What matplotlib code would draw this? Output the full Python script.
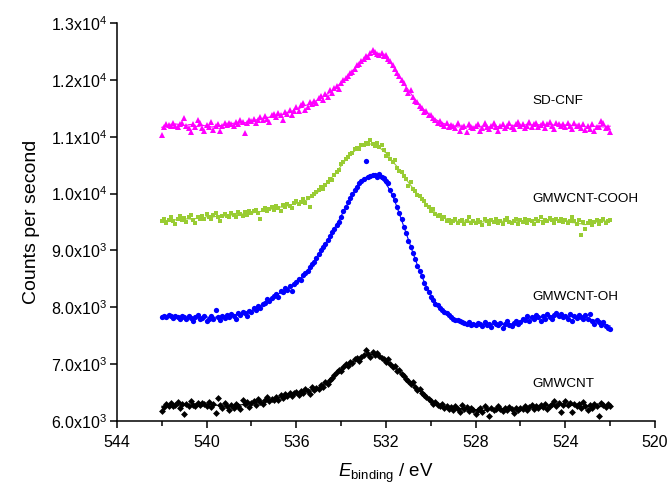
import numpy as np
import matplotlib
matplotlib.use("Agg")
import matplotlib.pyplot as plt
from matplotlib.ticker import MultipleLocator, FuncFormatter

plt.rcParams['font.family'] = ['Liberation Sans', 'DejaVu Sans']
plt.rcParams['mathtext.fontset'] = 'custom'
plt.rcParams['mathtext.rm'] = 'Liberation Sans'
plt.rcParams['mathtext.it'] = 'Liberation Sans:italic'

# binding energy grid, 542 -> 522 eV in 0.1 eV steps
energy = np.round(np.arange(542.0, 521.95, -0.1), 1)

sd_cnf = [
    11030, 11180, 11230, 11210, 11190, 11250, 11200, 11170, 11220, 11240,
    11330, 11200, 11150, 11090, 11220, 11180, 11300, 11250, 11160, 11100,
    11210, 11180, 11260, 11120, 11200, 11230, 11100, 11190, 11240, 11210,
    11250, 11220, 11190, 11270, 11230, 11300, 11260, 11070, 11240, 11290,
    11280, 11320, 11250, 11300, 11350, 11290, 11370, 11320, 11260, 11380,
    11400, 11350, 11420, 11380, 11300, 11440, 11410, 11480, 11390, 11460,
    11520, 11450, 11560, 11600, 11480, 11530, 11620, 11580, 11640, 11600,
    11680, 11720, 11650, 11750, 11700, 11820, 11780, 11860, 11900, 11850,
    11950, 12000, 12030, 12080, 12120, 12150, 12200, 12260, 12290, 12330,
    12370, 12420, 12400, 12470, 12530, 12500, 12460, 12450, 12480, 12430,
    12450, 12380, 12330, 12270, 12200, 12130, 12080, 12000, 11950, 11850,
    11780, 11820, 11700, 11640, 11620, 11550, 11500, 11430, 11460, 11380,
    11380, 11330, 11300, 11250, 11280, 11230, 11200, 11240, 11180, 11210,
    11200, 11150, 11250, 11100, 11180, 11200, 11090, 11230, 11170, 11150,
    11190, 11220, 11100, 11160, 11250, 11180, 11130, 11200, 11240, 11170,
    11110, 11190, 11230, 11160, 11200, 11250, 11180, 11140, 11220, 11260,
    11190, 11230, 11150, 11200, 11260, 11170, 11220, 11250, 11180, 11210,
    11240, 11160, 11230, 11260, 11200, 11140, 11250, 11220, 11190, 11230,
    11170, 11250, 11200, 11130, 11240, 11190, 11210, 11160, 11230, 11120,
    11200, 11140, 11220, 11100, 11180, 11170, 11280, 11250, 11150, 11180,
    11080,
]

cooh = [
    9510, 9560, 9490, 9540, 9580, 9520, 9470, 9550, 9600, 9530,
    9570, 9500, 9590, 9620, 9540, 9480, 9580, 9550, 9610, 9560,
    9640, 9590, 9550, 9620, 9650, 9580, 9520, 9600, 9640, 9610,
    9590, 9660, 9620, 9580, 9680, 9640, 9600, 9670, 9630, 9690,
    9650, 9700, 9720, 9660, 9560, 9710, 9740, 9690, 9730, 9760,
    9720, 9780, 9750, 9700, 9800, 9760, 9820, 9790, 9740, 9830,
    9870, 9810, 9860, 9900, 9840, 9920, 9760, 9950, 9990, 10020,
    10060, 10110, 10080, 10160, 10210, 10260, 10240, 10330, 10380, 10420,
    10520, 10560, 10610, 10640, 10700, 10720, 10780, 10810, 10790, 10850,
    10860, 10900, 10880, 10940, 10870, 10840, 10900, 10820, 10860, 10760,
    10660, 10700, 10610, 10560, 10600, 10450, 10400, 10380, 10310, 10260,
    10140, 10200, 10080, 10040, 9980, 9950, 9900, 9870, 9800, 9760,
    9700, 9730, 9640, 9600, 9620, 9560, 9580, 9520, 9540, 9490,
    9520, 9560, 9480, 9510, 9540, 9460, 9520, 9590, 9490, 9510,
    9480, 9530, 9500, 9440, 9550, 9510, 9470, 9540, 9500, 9560,
    9490, 9520, 9460, 9530, 9570, 9500, 9480, 9510, 9550, 9470,
    9530, 9500, 9560, 9490, 9540, 9510, 9470, 9550, 9520, 9580,
    9490, 9540, 9510, 9570, 9530, 9480, 9560, 9520, 9550, 9500,
    9540, 9490, 9520, 9580, 9510, 9460, 9530, 9270, 9500, 9380,
    9480, 9520, 9450, 9500, 9540, 9470, 9510, 9560, 9490, 9520,
    9530,
]

oh = [
    7830, 7850, 7820, 7860, 7840, 7810, 7850, 7830, 7800, 7840,
    7820, 7790, 7850, 7810, 7760, 7830, 7870, 7790, 7810, 7840,
    7760, 7800, 7840, 7790, 7950, 7820, 7780, 7850, 7810, 7870,
    7830, 7880, 7850, 7800, 7900, 7870, 7920, 7890, 7850, 7940,
    7920, 7980, 7950, 8020, 7990, 8050, 8080, 8140, 8100, 8170,
    8200, 8240, 8180, 8290, 8260, 8330, 8300, 8370, 8280, 8400,
    8440, 8500, 8480, 8560, 8600, 8640, 8700, 8760, 8800, 8860,
    8930, 9000, 9060, 9120, 9180, 9250, 9320, 9380, 9440, 9500,
    9590, 9700, 9760, 9850, 9920, 10000, 10060, 10110, 10180, 10220,
    10250, 10580, 10290, 10310, 10330, 10320, 10300, 10340, 10290, 10280,
    10230, 10180, 10060, 9980, 9880, 9760, 9650, 9560, 9420, 9300,
    9170, 9060, 8960, 8840, 8720, 8630, 8540, 8430, 8330, 8260,
    8180, 8130, 8060, 8040, 7980, 7950, 7920, 7890, 7860, 7830,
    7800, 7780, 7770, 7750, 7740, 7720, 7700, 7740, 7690, 7710,
    7680, 7720, 7700, 7660, 7740, 7690, 7710, 7650, 7730, 7700,
    7680, 7720, 7640, 7700, 7750, 7690, 7660, 7720, 7760, 7700,
    7740, 7800, 7780, 7850, 7760, 7830, 7800, 7870, 7820, 7760,
    7840, 7800, 7880, 7830, 7790, 7860, 7900, 7840, 7880, 7820,
    7850, 7800, 7880, 7760, 7840, 7810, 7870, 7830, 7790, 7860,
    7800, 7880, 7760, 7700, 7780, 7740, 7690, 7730, 7660, 7640,
    7620,
]

gmwcnt = [
    6170, 6240, 6290, 6260, 6310, 6250, 6280, 6330, 6220, 6290,
    6110, 6300, 6260, 6340, 6280, 6250, 6310, 6270, 6320, 6290,
    6260, 6330, 6240, 6290, 6130, 6400, 6270, 6220, 6310, 6250,
    6190, 6280, 6230, 6300, 6260, 6210, 6370, 6290, 6330, 6240,
    6310, 6350, 6280, 6380, 6330, 6300, 6360, 6410, 6340, 6390,
    6370, 6420, 6360, 6450, 6400, 6470, 6430, 6490, 6440, 6480,
    6510, 6450, 6530, 6490, 6560, 6520, 6470, 6600, 6540, 6580,
    6560, 6630, 6600, 6680, 6650, 6720, 6760, 6810, 6850, 6900,
    6880, 6950, 6990, 6960, 7040, 7010, 7080, 7100, 7060, 7130,
    7150, 7240, 7180, 7120, 7210, 7160, 7190, 7140, 7100, 7090,
    7040, 7080, 6990, 6950, 6970, 6880, 6900, 6830, 6790, 6740,
    6700, 6640, 6680, 6590, 6540, 6560, 6480, 6450, 6420, 6380,
    6340, 6300, 6330, 6270, 6250, 6290, 6220, 6260, 6200, 6240,
    6180, 6260, 6210, 6150, 6280, 6200, 6240, 6170, 6230, 6190,
    6120, 6180, 6220, 6160, 6250, 6200, 6090, 6230, 6180, 6210,
    6250, 6200, 6170, 6230, 6190, 6240, 6210, 6130, 6220, 6180,
    6230, 6200, 6260, 6190, 6240, 6270, 6210, 6250, 6220, 6280,
    6240, 6300, 6200, 6260, 6290, 6340, 6250, 6310, 6160, 6280,
    6340, 6270, 6320, 6150, 6300, 6250, 6290, 6230, 6330, 6260,
    6180, 6270, 6220, 6300, 6250, 6090, 6310, 6270, 6240, 6290,
    6260,
]

labels = ["SD-CNF", "GMWCNT-COOH", "GMWCNT-OH", "GMWCNT"]
label_y = [11640, 9910, 8180, 6650]
colors = ["#ff00ff", "#99cc33", "#0000ff", "#000000"]
markers = ["^", "s", "o", "D"]
sizes = [4.3, 3.4, 3.8, 3.5]


def smooth(y, window=9):
    # moving average used as the fitted envelope
    y = np.asarray(y, dtype=float)
    k = np.ones(window)
    num = np.convolve(y, k, mode="same")
    den = np.convolve(np.ones_like(y), k, mode="same")
    return num / den


fig = plt.figure(figsize=(6.7, 4.86), dpi=100)
ax = fig.add_axes([0.1746, 0.1344, 0.803, 0.8176])

for y, lab, c, m, ms, ly in zip([sd_cnf, cooh, oh, gmwcnt], labels, colors,
                                markers, sizes, label_y):
    ax.plot(energy, y, linestyle="none", marker=m, ms=ms, color=c,
            markeredgewidth=0)
    ax.plot(energy, smooth(y), color=c, lw=0.8)
    ax.text(525.45, ly, lab, fontsize=9.7, ha="left", va="center")

ax.set_xlim(544, 520)
ax.set_ylim(6000, 13000)
ax.xaxis.set_major_locator(MultipleLocator(4))
ax.xaxis.set_minor_locator(MultipleLocator(2))
ax.yaxis.set_major_locator(MultipleLocator(1000))


def sci(v, pos):
    exp = int(np.floor(np.log10(v)))
    return r"$\mathregular{%.1fx10^{%d}}$" % (v / 10 ** exp, exp)


ax.yaxis.set_major_formatter(FuncFormatter(sci))

for side in ["top", "right"]:
    ax.spines[side].set_visible(False)
for side in ["left", "bottom"]:
    ax.spines[side].set_linewidth(1.1)

ax.tick_params(which="major", direction="out", length=5, width=1.1,
               labelsize=11.5, pad=2)
ax.tick_params(axis="x", which="major", pad=5)
ax.tick_params(which="minor", direction="out", length=3.5, width=1.1)

ax.set_ylabel("Counts per second", fontsize=14, labelpad=8)
ax.set_xlabel(r"$\mathit{E}_{\mathrm{binding}}$ / eV", fontsize=13.5, labelpad=9)

fig.savefig("out.png", dpi=100)
